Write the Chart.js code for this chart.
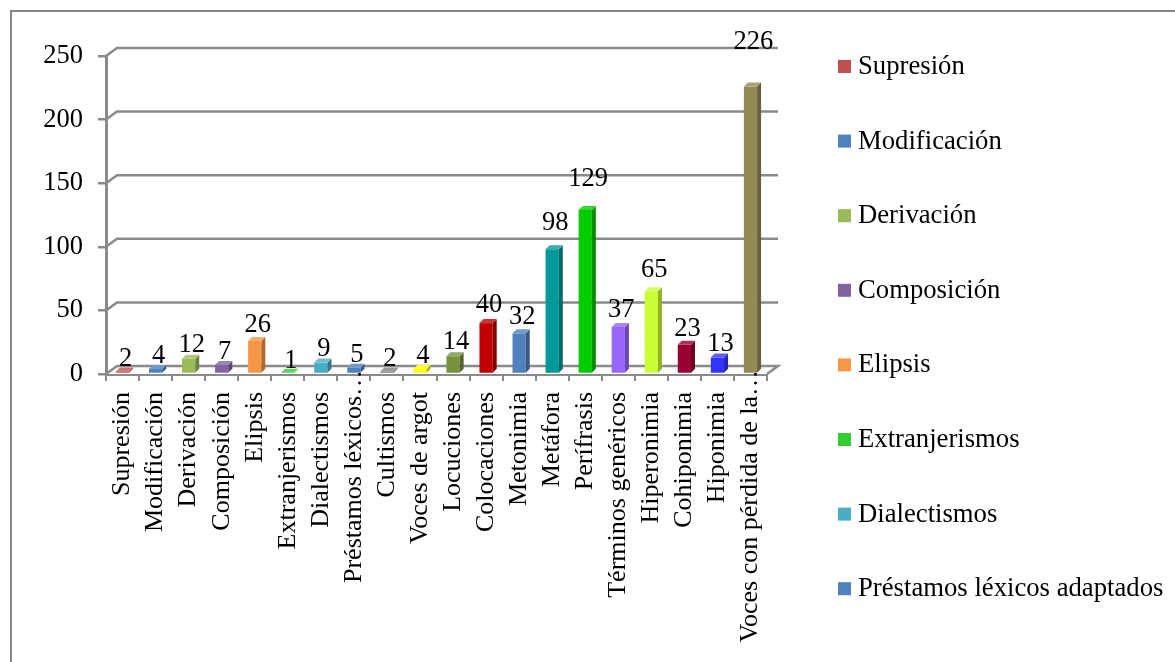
<!DOCTYPE html>
<html>
<head>
<meta charset="utf-8">
<script src="https://cdn.jsdelivr.net/npm/chart.js@4.4.0/dist/chart.umd.min.js"></script>
<style>
  html, body { margin: 0; padding: 0; background: #fff; }
  #wrap { width: 1175px; height: 662px; position: relative; }
</style>
</head>
<body>
<div id="wrap"><canvas id="grafico" width="1175" height="662"></canvas></div>
<script>
// categorías (nombre completo para la leyenda, nombre corto para el eje)
var categorias = ["Supresión", "Modificación", "Derivación", "Composición", "Elipsis",
	"Extranjerismos", "Dialectismos", "Préstamos léxicos adaptados", "Cultismos", "Voces de argot",
	"Locuciones", "Colocaciones", "Metonimia", "Metáfora", "Perífrasis",
	"Términos genéricos", "Hiperonimia", "Cohiponimia", "Hiponimia", "Voces con pérdida de la…"];
var etiquetasEje = ["Supresión", "Modificación", "Derivación", "Composición", "Elipsis",
	"Extranjerismos", "Dialectismos", "Préstamos léxicos…", "Cultismos", "Voces de argot",
	"Locuciones", "Colocaciones", "Metonimia", "Metáfora", "Perífrasis",
	"Términos genéricos", "Hiperonimia", "Cohiponimia", "Hiponimia", "Voces con pérdida de la…"];
var valores = [2, 4, 12, 7, 26, 1, 9, 5, 2, 4, 14, 40, 32, 98, 129, 37, 65, 23, 13, 226];
var colores = ["#C0504D", "#4F81BD", "#9BBB59", "#8064A2", "#F79646",
	"#33CC33", "#4BACC6", "#4F81BD", "#7F7F7F", "#FFFF00",
	"#77933C", "#C00000", "#4F81BD", "#009999", "#00CC00",
	"#9966FF", "#CCFF33", "#990033", "#3333FF", "#948A54"];
var ticksY = [0, 50, 100, 150, 200, 250];
var entradasLeyenda = 8; // solo caben las primeras

var FUENTE = "'Liberation Serif', 'Times New Roman', serif";
var GRIS = "#8a8a8a";
var DX = 11, DY = 8;   // desplazamiento de la pared del fondo
var PROF = 4;          // profundidad de las barras

function tono(hex, f) {
	var n = parseInt(hex.slice(1), 16);
	var r = (n >> 16) & 255, g = (n >> 8) & 255, b = n & 255;
	if (f < 1) { r *= f; g *= f; b *= f; }
	else { var k = f - 1; r += (255 - r) * k; g += (255 - g) * k; b += (255 - b) * k; }
	return "rgb(" + Math.round(r) + "," + Math.round(g) + "," + Math.round(b) + ")";
}

function poligono(ctx, pts, color) {
	ctx.beginPath();
	ctx.moveTo(pts[0][0], pts[0][1]);
	for (var i = 1; i < pts.length; i++) ctx.lineTo(pts[i][0], pts[i][1]);
	ctx.closePath();
	ctx.fillStyle = color;
	ctx.fill();
}

// marco, suelo y líneas de la pared del fondo
var fondo3d = {
	id: "fondo3d",
	beforeDraw: function (chart) {
		var ctx = chart.ctx;
		ctx.save();
		ctx.strokeStyle = "#868686";
		ctx.lineWidth = 2;
		ctx.beginPath();
		ctx.moveTo(11, chart.height);
		ctx.lineTo(11, 11);
		ctx.lineTo(chart.width, 11);
		ctx.stroke();
		ctx.restore();
	},
	beforeDatasetsDraw: function (chart) {
		var ctx = chart.ctx, ca = chart.chartArea, y = chart.scales.y;
		ctx.save();
		poligono(ctx, [[ca.left, ca.bottom], [ca.left + DX, ca.bottom - DY],
			[ca.right + DX, ca.bottom - DY], [ca.right, ca.bottom]], "#fbfbfb");
		ctx.strokeStyle = GRIS;
		ctx.lineWidth = 2.5;
		y.ticks.forEach(function (t) {
			var py = y.getPixelForValue(t.value);
			ctx.beginPath();
			ctx.moveTo(ca.left, py);
			ctx.lineTo(ca.left + DX, py - DY);
			ctx.lineTo(ca.right + DX, py - DY);
			if (t.value === 0) ctx.lineTo(ca.right, ca.bottom);
			ctx.stroke();
		});
		ctx.restore();
	}
};

// caras laterales y superiores de las barras
var barras3d = {
	id: "barras3d",
	afterDatasetsDraw: function (chart) {
		var ctx = chart.ctx;
		ctx.save();
		chart.getDatasetMeta(0).data.forEach(function (bar, i) {
			var p = bar.getProps(["x", "y", "base", "width"], true);
			var l = p.x - p.width / 2, r = p.x + p.width / 2;
			poligono(ctx, [[r, p.y], [r + PROF, p.y - PROF], [r + PROF, p.base - PROF], [r, p.base]], tono(colores[i], 0.7));
			poligono(ctx, [[l, p.y], [l + PROF, p.y - PROF], [r + PROF, p.y - PROF], [r, p.y]], tono(colores[i], 1.2));
		});
		ctx.restore();
	}
};

// etiquetas del eje x giradas; las recortadas dejan salir los puntos hacia arriba
var etiquetasX = {
	id: "etiquetasX",
	afterDraw: function (chart) {
		var ctx = chart.ctx, x = chart.scales.x, ca = chart.chartArea;
		ctx.save();
		ctx.font = "26px " + FUENTE;
		ctx.fillStyle = "#000";
		ctx.textAlign = "right";
		ctx.textBaseline = "middle";
		etiquetasEje.forEach(function (txt, i) {
			var px = x.getPixelForTick(i);
			var top = ca.bottom + 18;
			if (txt.charAt(txt.length - 1) === "…") top -= 22;
			ctx.save();
			ctx.translate(px, top);
			ctx.rotate(-Math.PI / 2);
			ctx.fillText(txt, 0, 0);
			ctx.restore();
		});
		ctx.restore();
	}
};

// valores sobre las barras y leyenda
var textos = {
	id: "textos",
	afterDraw: function (chart) {
		var ctx = chart.ctx;
		ctx.save();
		ctx.font = "26.5px " + FUENTE;
		ctx.fillStyle = "#000";
		ctx.textAlign = "center";
		ctx.textBaseline = "middle";
		chart.getDatasetMeta(0).data.forEach(function (bar, i) {
			var p = bar.getProps(["x", "y", "base"], true);
			var alto = p.base - p.y;
			ctx.fillText(String(valores[i]), p.x + 3, p.y - (12 + 0.115 * alto));
		});

		ctx.textAlign = "left";
		ctx.font = "26.7px " + FUENTE;
		for (var i = 0; i < entradasLeyenda; i++) {
			var cy = 66 + i * 74.6;
			ctx.fillStyle = colores[i];
			ctx.fillRect(838, cy - 6, 13, 13);
			ctx.fillStyle = "#000";
			ctx.fillText(categorias[i], 858, cy + 1);
		}
		ctx.restore();
	}
};

Chart.defaults.font.family = FUENTE;
Chart.defaults.color = "#000";

var ctx = document.getElementById("grafico").getContext("2d");
var grafico = new Chart(ctx, {
	type: "bar",
	data: {
		labels: etiquetasEje,
		datasets: [{
			label: "Frecuencia",
			data: valores,
			backgroundColor: colores,
			borderWidth: 0,
			categoryPercentage: 1,
			barPercentage: 0.4
		}]
	},
	options: {
		responsive: false,
		devicePixelRatio: 1,
		animation: false,
		layout: { padding: { left: 11, top: 56, right: 408, bottom: 0 } },
		plugins: {
			legend: { display: false },
			tooltip: { enabled: false }
		},
		scales: {
			x: {
				afterFit: function (scale) { scale.height = 288; },
				grid: { drawOnChartArea: false, tickLength: 7, color: GRIS, lineWidth: 2 },
				border: { color: GRIS, width: 3 },
				ticks: { display: false, autoSkip: false }
			},
			y: {
				min: 0,
				max: 250,
				afterFit: function (scale) { scale.width = 95; },
				afterBuildTicks: function (scale) {
					scale.ticks = ticksY.map(function (v) { return { value: v }; });
				},
				grid: { drawOnChartArea: false, tickLength: 8, color: GRIS, lineWidth: 2.5 },
				border: { color: GRIS, width: 3 },
				ticks: { padding: 15, font: { size: 26.5 } }
			}
		}
	},
	plugins: [fondo3d, barras3d, etiquetasX, textos]
});
</script>
</body>
</html>
